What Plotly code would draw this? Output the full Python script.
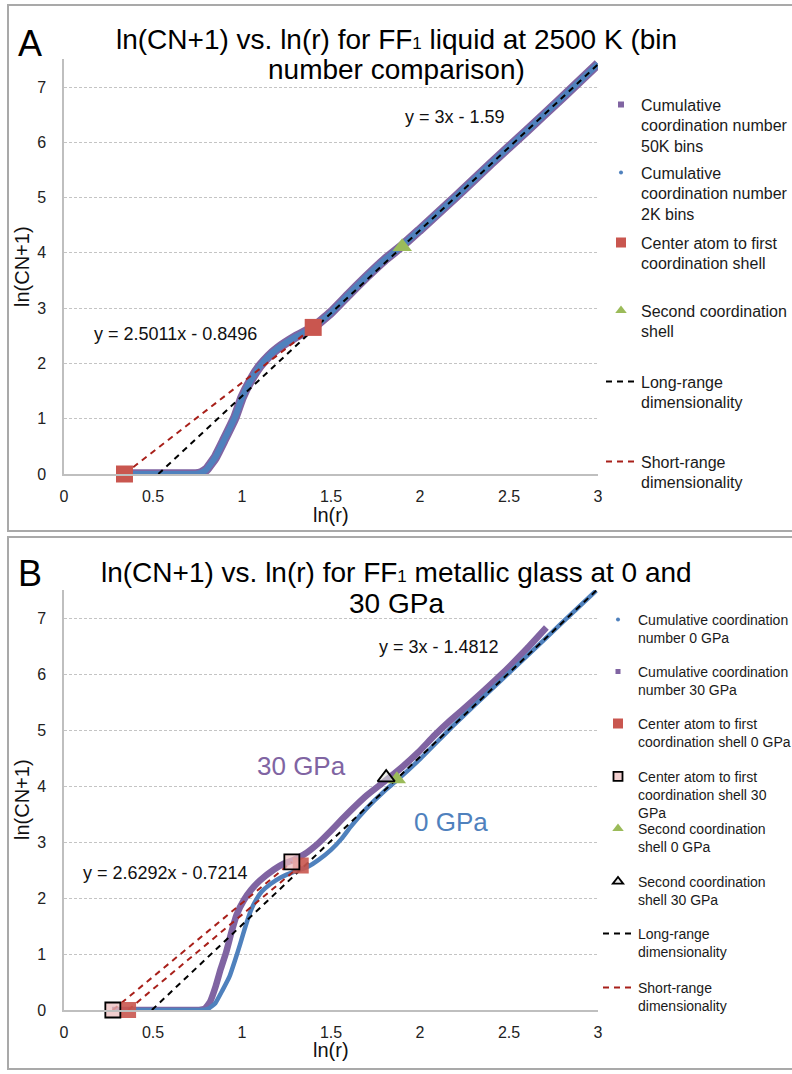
import plotly.graph_objects as go

W, H = 792, 1074
FONT = "Liberation Sans, Arial, Helvetica, sans-serif"

PURPLE = "#8064A2"
BLUE = "#4F81BD"
RED = "#C9564F"
GREEN = "#9BBB59"
DARKRED = "#A8201A"

# ---------------- Panel A data ----------------
a_lnr = [0.34, 0.50, 0.60, 0.70, 0.74, 0.77, 0.80, 0.85, 0.90, 0.96, 1.00, 1.05, 1.10, 1.15,
         1.20, 1.30, 1.40, 1.50, 1.60, 1.70, 1.80, 1.90, 2.00, 2.20, 2.40, 2.60, 2.80, 3.00]
a_cn_50k = [0.0, 0.0, 0.0, 0.0, 0.0, 0.02, 0.08, 0.30, 0.62, 1.02, 1.38, 1.70, 1.95, 2.13,
            2.27, 2.48, 2.65, 2.92, 3.25, 3.57, 3.87, 4.13, 4.42, 5.01, 5.62, 6.21, 6.81, 7.42]
a_cn_2k = [0.0, 0.0, 0.0, 0.0, 0.0, 0.02, 0.08, 0.30, 0.62, 1.02, 1.38, 1.70, 1.95, 2.13,
           2.27, 2.48, 2.65, 2.92, 3.25, 3.57, 3.87, 4.13, 4.42, 5.01, 5.62, 6.21, 6.81, 7.42]
a_first_x = [0.3397, 1.40]
a_first_y = [0.0, 2.652]
a_second_x = [1.90]
a_second_y = [4.11]
a_long_x = [0.53, 3.00]
a_long_y = [0.0, 7.41]
a_short_x = [0.3397, 1.40]
a_short_y = [0.0, 2.652]

# ---------------- Panel B data ----------------
b_lnr_0 = [0.36, 0.50, 0.60, 0.70, 0.78, 0.81, 0.85, 0.89, 0.93, 0.96, 0.99, 1.02, 1.05, 1.08,
           1.11, 1.16, 1.22, 1.30, 1.37, 1.43, 1.50, 1.56, 1.61, 1.70, 1.80, 1.87, 2.00,
           2.20, 2.40, 2.60, 2.80, 2.99]
b_cn_0 = [0.0, 0.0, 0.0, 0.0, 0.0, 0.02, 0.12, 0.35, 0.60, 0.88, 1.18, 1.50, 1.78, 1.97,
          2.11, 2.25, 2.37, 2.48, 2.56, 2.68, 2.86, 3.06, 3.27, 3.60, 3.91, 4.10, 4.48,
          5.12, 5.72, 6.32, 6.92, 7.49]
b_lnr_30 = [0.27, 0.40, 0.50, 0.60, 0.70, 0.76, 0.79, 0.82, 0.85, 0.88, 0.91, 0.94, 0.97, 1.01,
            1.05, 1.10, 1.18, 1.24, 1.29, 1.35, 1.43, 1.50, 1.56, 1.61, 1.70, 1.80, 1.90,
            1.99, 2.08, 2.17, 2.30, 2.45, 2.60, 2.71]
b_cn_30 = [0.0, 0.0, 0.0, 0.0, 0.0, 0.0, 0.02, 0.14, 0.40, 0.73, 1.02, 1.38, 1.70, 1.96,
           2.14, 2.31, 2.51, 2.62, 2.68, 2.78, 2.98, 3.20, 3.40, 3.56, 3.83, 4.08, 4.34,
           4.60, 4.90, 5.17, 5.53, 5.97, 6.45, 6.83]
b_first0_x = [0.36, 1.33]
b_first0_y = [0.0, 2.58]
b_first30_x = [0.2744, 1.28]
b_first30_y = [0.0, 2.644]
b_second0_x = [1.87]
b_second0_y = [4.12]
b_second30_x = [1.81]
b_second30_y = [4.15]
b_long_x = [0.4937, 2.99]
b_long_y = [0.0, 7.49]
b_short0_x = [0.36, 1.33]
b_short0_y = [0.0, 2.58]
b_short30_x = [0.2744, 1.28]
b_short30_y = [0.0, 2.644]

x_ticks = [0, 0.5, 1, 1.5, 2, 2.5, 3]
x_ticktext = ["0", "0.5", "1", "1.5", "2", "2.5", "3"]
y_ticks = [0, 1, 2, 3, 4, 5, 6, 7]

# ---------------- layout geometry (pixels) ----------------
X0, X3 = 64, 598
A_Y0, A_YTOP = 474, 59.4
B_Y0, B_YTOP = 1010, 590


def px(x):
    return x / W


def py(y):
    return 1 - y / H


fig = go.Figure()


def curve(x, y, color, width, xa, ya):
    fig.add_trace(go.Scatter(x=x, y=y, mode="lines", showlegend=False, cliponaxis=False,
                             line=dict(color=color, width=width, shape="spline", smoothing=0.35),
                             xaxis=xa, yaxis=ya, hoverinfo="skip"))


def dashed(x, y, color, xa, ya, name, lg):
    fig.add_trace(go.Scatter(x=x, y=y, mode="lines", name=name, legend=lg, cliponaxis=False,
                             line=dict(color=color, width=2, dash="6px,5px"),
                             xaxis=xa, yaxis=ya))


def marks(x, y, symbol, size, color, xa, ya, lcolor=None, lwidth=0):
    fig.add_trace(go.Scatter(x=x, y=y, mode="markers", showlegend=False, cliponaxis=False,
                             marker=dict(symbol=symbol, size=size, color=color,
                                         line=dict(color=lcolor or color, width=lwidth)),
                             xaxis=xa, yaxis=ya))


def legend_marker(name, lg, symbol, size, color, lcolor=None, lwidth=0):
    fig.add_trace(go.Scatter(x=[None], y=[None], mode="markers", name=name, legend=lg,
                             marker=dict(symbol=symbol, size=size, color=color,
                                         line=dict(color=lcolor or color, width=lwidth))))


# ---- Panel A traces ----
curve(a_lnr, a_cn_50k, PURPLE, 9.5, "x", "y")
curve(a_lnr, a_cn_2k, BLUE, 6, "x", "y")
dashed(a_short_x, a_short_y, DARKRED, "x", "y", "Short-range<br>dimensionality", "legend6")
dashed(a_long_x, a_long_y, "#000000", "x", "y", "Long-range<br>dimensionality", "legend5")
marks(a_first_x, a_first_y, "square", 17, RED, "x", "y")
marks(a_second_x, a_second_y, "triangle-up", 17, GREEN, "x", "y")
legend_marker("Cumulative<br>coordination number<br>50K bins", "legend", "square", 6, PURPLE)
legend_marker("Cumulative<br>coordination number<br>2K bins", "legend2", "circle", 4, BLUE)
legend_marker("Center atom to first<br>coordination shell", "legend3", "square", 10, RED)
legend_marker("Second coordination<br>shell", "legend4", "triangle-up", 10, GREEN)

# ---- Panel B traces ----
curve(b_lnr_30, b_cn_30, PURPLE, 6.5, "x2", "y2")
curve(b_lnr_0, b_cn_0, BLUE, 4.5, "x2", "y2")
dashed(b_short0_x, b_short0_y, DARKRED, "x2", "y2", "Short-range<br>dimensionality", "legend14")
dashed(b_short30_x, b_short30_y, DARKRED, "x2", "y2", "", "legend14")
fig.data[-1].showlegend = False
dashed(b_long_x, b_long_y, "#000000", "x2", "y2", "Long-range<br>dimensionality", "legend13")
marks(b_first0_x, b_first0_y, "square", 16, "rgba(201,86,79,0.9)", "x2", "y2")
marks(b_first30_x, b_first30_y, "square", 15, "rgba(236,190,190,0.75)", "x2", "y2", "#000000", 1.8)
marks(b_second0_x, b_second0_y, "triangle-up", 16, GREEN, "x2", "y2")
marks(b_second30_x, b_second30_y, "triangle-up", 15, "rgba(225,228,220,0.6)", "x2", "y2", "#000000", 1.8)
legend_marker("Cumulative coordination<br>number 0 GPa", "legend7", "circle", 4, BLUE)
legend_marker("Cumulative coordination<br>number 30 GPa", "legend8", "square", 5, PURPLE)
legend_marker("Center atom to first<br>coordination shell 0 GPa", "legend9", "square", 10, RED)
legend_marker("Center atom to first<br>coordination shell 30<br>GPa", "legend10", "square", 9,
              "#F2CFCF", "#000000", 1.8)
legend_marker("Second coordination<br>shell 0 GPa", "legend11", "triangle-up", 10, GREEN)
legend_marker("Second coordination<br>shell 30 GPa", "legend12", "triangle-up", 9,
              "#E8E8E8", "#000000", 1.8)

# ---- legends ----
legend_layout = {}
a_tops = [87.5, 155.5, 225.5, 293.5, 364.5, 444.5]
a_names = ["legend", "legend2", "legend3", "legend4", "legend5", "legend6"]
for nm, t in zip(a_names, a_tops):
    legend_layout[nm] = dict(x=px(601), y=py(t), xanchor="left", yanchor="top",
                             bgcolor="rgba(0,0,0,0)", borderwidth=0, valign="top",
                             font=dict(family=FONT, size=16, color="#1a1a1a"))
b_tops = [603.8, 655.8, 707.8, 760.8, 812.8, 865.8, 917.8, 971.8]
b_names = ["legend7", "legend8", "legend9", "legend10", "legend11", "legend12",
           "legend13", "legend14"]
for nm, t in zip(b_names, b_tops):
    legend_layout[nm] = dict(x=px(598), y=py(t), xanchor="left", yanchor="top",
                             bgcolor="rgba(0,0,0,0)", borderwidth=0, valign="top",
                             font=dict(family=FONT, size=14, color="#1a1a1a"))

axis_common = dict(range=[0, 3], tickvals=x_ticks, ticktext=x_ticktext, showgrid=False,
                   zeroline=False, showline=True, linecolor="#BFBFBF", linewidth=1.5,
                   ticks="", ticklabelstandoff=7, automargin=False,
                   tickfont=dict(family=FONT, size=16, color="#222"))
yaxis_common = dict(range=[0, 7.5], tickvals=y_ticks, showgrid=True, gridcolor="#C4C4C4",
                    griddash="3px,2px", gridwidth=1, zeroline=False, showline=True,
                    linecolor="#BFBFBF", linewidth=1.5, ticks="", ticklabelstandoff=13,
                    automargin=False, tickfont=dict(family=FONT, size=16, color="#222"))

fig.update_layout(
    width=W, height=H, margin=dict(l=0, r=0, t=0, b=0, autoexpand=False),
    paper_bgcolor="white", plot_bgcolor="white",
    font=dict(family=FONT, color="#111"),
    xaxis=dict(domain=[px(X0), px(X3)], anchor="y", **axis_common),
    yaxis=dict(domain=[py(A_Y0), py(A_YTOP)], anchor="x", **yaxis_common),
    xaxis2=dict(domain=[px(X0), px(X3)], anchor="y2", **axis_common),
    yaxis2=dict(domain=[py(B_Y0), py(B_YTOP)], anchor="x2", **yaxis_common),
    **legend_layout,
)

# panel frames
fig.add_shape(type="rect", xref="paper", yref="paper", x0=px(8), x1=px(800), y0=py(531), y1=py(5),
              line=dict(color="#A9A9A9", width=2), layer="below")
fig.add_shape(type="rect", xref="paper", yref="paper", x0=px(8), x1=px(800), y0=py(1069), y1=py(537),
              line=dict(color="#A9A9A9", width=2), layer="below")

SUB = '<span style="font-size:17px">1</span>'
texts = [
    # (x px, y px, text, size, color, angle)
    (30, 44, "A", 36, "#000", 0),
    (396, 40, "ln(CN+1) vs. ln(r) for FF" + SUB + " liquid at 2500 K (bin", 28, "#000", 0),
    (396, 70, "number comparison)", 28, "#000", 0),
    (30, 573, "B", 36, "#000", 0),
    (396, 572, "ln(CN+1) vs. ln(r) for FF" + SUB + " metallic glass at 0 and", 28, "#000", 0),
    (396, 603, "30 GPa", 28, "#000", 0),
    (331, 515, "ln(r)", 20, "#111", 0),
    (331, 1050, "ln(r)", 20, "#111", 0),
    (22, 267, "ln(CN+1)", 20, "#111", -90),
    (22, 800, "ln(CN+1)", 20, "#111", -90),
]
for x, y, t, s, c, ang in texts:
    fig.add_annotation(x=px(x), y=py(y), xref="paper", yref="paper", text=t, showarrow=False,
                       xanchor="center", yanchor="middle", textangle=ang,
                       font=dict(family=FONT, size=s, color=c))

data_labels = [
    ("x", "y", 2.197, 6.46, "y = 3x - 1.59", 18, "#111"),
    ("x", "y", 0.624, 2.53, "y = 2.5011x - 0.8496", 18, "#111"),
    ("x2", "y2", 2.107, 6.48, "y = 3x - 1.4812", 18, "#111"),
    ("x2", "y2", 0.573, 2.45, "y = 2.6292x - 0.7214", 18, "#111"),
    ("x2", "y2", 1.337, 4.35, "30 GPa", 26, PURPLE),
    ("x2", "y2", 2.174, 3.36, "0 GPa", 26, BLUE),
]
for xa, ya, x, y, t, s, c in data_labels:
    fig.add_annotation(x=x, y=y, xref=xa, yref=ya, text=t, showarrow=False,
                       xanchor="center", yanchor="middle",
                       font=dict(family=FONT, size=s, color=c))

fig.write_html("out.html")
